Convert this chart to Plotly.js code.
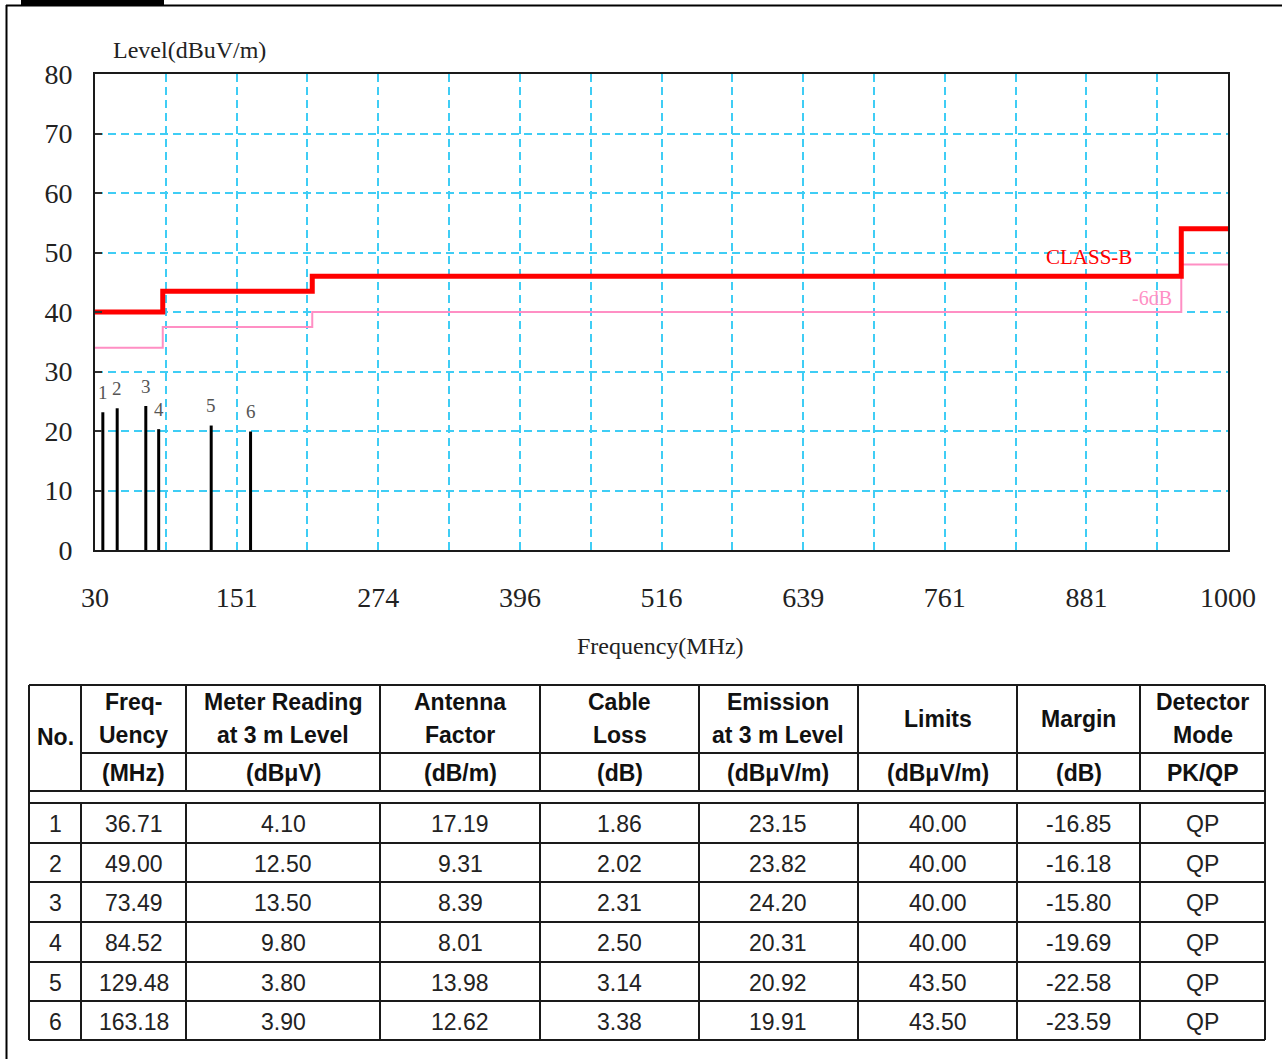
<!DOCTYPE html>
<html>
<head>
<meta charset="utf-8">
<script src="https://cdn.plot.ly/plotly-3.0.1.min.js"></script>
<style>
html,body{margin:0;padding:0;background:#fff;}
#chart{width:1282px;height:1059px;}
</style>
</head>
<body>
<div id="chart"></div>
<script>
// ---------------- DATA ----------------
const peakNo      = ["1","2","3","4","5","6"];
const peakFreq    = [36.71, 49.00, 73.49, 84.52, 129.48, 163.18];
const meterRead   = ["4.10","12.50","13.50","9.80","3.80","3.90"];
const antFactor   = ["17.19","9.31","8.39","8.01","13.98","12.62"];
const cableLoss   = ["1.86","2.02","2.31","2.50","3.14","3.38"];
const emission    = [23.15, 23.82, 24.20, 20.31, 20.92, 19.91];
const limits      = ["40.00","40.00","40.00","40.00","43.50","43.50"];
const margin      = ["-16.85","-16.18","-15.80","-19.69","-22.58","-23.59"];
const detector    = ["QP","QP","QP","QP","QP","QP"];

const limitFreq   = [30, 88, 216, 960, 1000];
const classB      = [40, 43.5, 46, 54, 54];
const classB6dB   = [34, 37.5, 40, 48, 48];

const xTickLabels = ["30","151","274","396","516","639","761","881","1000"];

const headLine1 = ["", "Freq-", "Meter Reading", "Antenna", "Cable", "Emission", "", "", "Detector"];
const headLine2 = ["", "Uency", "at 3 m Level", "Factor", "Loss", "at 3 m Level", "", "", "Mode"];
const headSingle = ["No.", "", "", "", "", "", "Limits", "Margin", ""];
const headUnits = ["", "(MHz)", "(dBμV)", "(dB/m)", "(dB)", "(dBμV/m)", "(dBμV/m)", "(dB)", "PK/QP"];

// ---------------- LAYOUT HELPERS ----------------
const W = 1282, H = 1059;
const PX = p => p / W;
const PY = p => 1 - p / H;
const plotL = 95, plotR = 1228, plotT = 74, plotB = 550;

const serif = "Liberation Serif, Times New Roman, serif";
const sans = "Liberation Sans, Arial, sans-serif";
const gridCol = "#3fcdf5";

// grid positions: 16 divisions across 30..1000
const xMin = 30, xMax = 1000, nDiv = 16;
const tickVals = [], tickText = [];
for (let i = 0; i <= nDiv; i++) {
  tickVals.push(xMin + (xMax - xMin) * i / nDiv);
  tickText.push(i % 2 === 0 ? xTickLabels[i / 2] : "");
}

// ---------------- TRACES ----------------
const traces = [];
traces.push({
  x: limitFreq, y: classB6dB, mode: "lines", line: {shape: "hv", color: "#ff8fc4", width: 2},
  hoverinfo: "skip", showlegend: false
});
traces.push({
  x: limitFreq, y: classB, mode: "lines", line: {shape: "hv", color: "#ff0000", width: 5},
  hoverinfo: "skip", showlegend: false
});
const bx = [], by = [];
peakFreq.forEach((f, i) => { bx.push(f, f, null); by.push(0, emission[i], null); });
traces.push({
  x: bx, y: by, mode: "lines", line: {color: "#000", width: 3},
  hoverinfo: "skip", showlegend: false
});

// ---------------- ANNOTATIONS ----------------
const ann = [];
ann.push({xref: "paper", yref: "paper", x: PX(111), y: PY(50), xanchor: "left", yanchor: "middle",
  text: "Level(dBuV/m)", showarrow: false, font: {family: serif, size: 24, color: "#222"}});
ann.push({xref: "paper", yref: "paper", x: PX(660), y: PY(646), xanchor: "center", yanchor: "middle",
  text: "Frequency(MHz)", showarrow: false, font: {family: serif, size: 24, color: "#222"}});
ann.push({xref: "x", yref: "y", x: 881, y: 49.2, xanchor: "center", yanchor: "middle",
  text: "CLASS-B", showarrow: false, font: {family: serif, size: 21, color: "#ff0000"}});
ann.push({xref: "x", yref: "y", x: 935, y: 42.4, xanchor: "center", yanchor: "middle",
  text: "-6dB", showarrow: false, font: {family: serif, size: 20, color: "#ff8fc4"}});
peakFreq.forEach((f, i) => {
  ann.push({xref: "x", yref: "y", x: f, y: emission[i], yshift: 20, xanchor: "center", yanchor: "middle",
    text: peakNo[i], showarrow: false, font: {family: serif, size: 19, color: "#555"}});
});

// ---------------- TABLE (shapes + text) ----------------
const colEdges = [29, 81, 186, 380, 540, 699, 858, 1017, 1140, 1265];
const hdrTop = 685, hdrMid = 753, hdrBot = 791, gapBot = 803;
const rowEdges = [803, 843, 882, 922, 962, 1001, 1040];
const shapes = [];
const tLine = {color: "#1a1a1a", width: 2};
function hline(y, x0, x1) { shapes.push({type: "line", xref: "paper", yref: "paper", x0: PX(x0), x1: PX(x1), y0: PY(y), y1: PY(y), line: tLine}); }
function vline(x, y0, y1) { shapes.push({type: "line", xref: "paper", yref: "paper", x0: PX(x), x1: PX(x), y0: PY(y0), y1: PY(y1), line: tLine}); }
const tL = colEdges[0], tR = colEdges[colEdges.length - 1];
hline(hdrTop, tL, tR);
hline(hdrMid, colEdges[1], tR);
hline(hdrBot, tL, tR);
hline(gapBot, tL, tR);
rowEdges.slice(1).forEach(y => hline(y, tL, tR));
vline(tL, hdrTop, rowEdges[rowEdges.length - 1]);
vline(tR, hdrTop, rowEdges[rowEdges.length - 1]);
colEdges.slice(1, -1).forEach(x => { vline(x, hdrTop, hdrBot); vline(x, gapBot, rowEdges[rowEdges.length - 1]); });

// page frame
shapes.push({type: "line", xref: "paper", yref: "paper", x0: PX(6), x1: PX(1282), y0: PY(5.5), y1: PY(5.5), line: {color: "#000", width: 2}});
shapes.push({type: "line", xref: "paper", yref: "paper", x0: PX(6.5), x1: PX(6.5), y0: PY(5), y1: PY(1059), line: {color: "#000", width: 2}});
shapes.push({type: "rect", xref: "paper", yref: "paper", x0: PX(21), x1: PX(164), y0: PY(0), y1: PY(5.5), line: {width: 0}, fillcolor: "#000"});

const colCenter = i => (colEdges[i] + colEdges[i + 1]) / 2;
const hdrFont = {family: sans, size: 23, color: "#111"};
const cellFont = {family: sans, size: 23, color: "#222"};
function txt(x, y, s, font) {
  ann.push({xref: "paper", yref: "paper", x: PX(x), y: PY(y), xanchor: "center", yanchor: "middle",
    text: s, showarrow: false, font: font});
}
for (let c = 0; c < 9; c++) {
  const cx = colCenter(c);
  if (headLine1[c]) txt(cx, 702, "<b>" + headLine1[c] + "</b>", hdrFont);
  if (headLine2[c]) txt(cx, 735, "<b>" + headLine2[c] + "</b>", hdrFont);
  if (headSingle[c]) txt(cx, c === 0 ? 737 : 719, "<b>" + headSingle[c] + "</b>", hdrFont);
  if (headUnits[c]) txt(cx, 773, "<b>" + headUnits[c] + "</b>", hdrFont);
}
const cols = [peakNo, peakFreq.map(v => v.toFixed(2)), meterRead, antFactor, cableLoss,
  emission.map(v => v.toFixed(2)), limits, margin, detector];
for (let r = 0; r < 6; r++) {
  const cy = (rowEdges[r] + rowEdges[r + 1]) / 2 + 1;
  for (let c = 0; c < 9; c++) txt(colCenter(c), cy, cols[c][r], cellFont);
}

// ---------------- LAYOUT ----------------
const layout = {
  width: W, height: H,
  margin: {l: 0, r: 0, t: 0, b: 0},
  paper_bgcolor: "#fff", plot_bgcolor: "#fff",
  showlegend: false,
  xaxis: {
    domain: [PX(plotL), PX(plotR)], range: [xMin, xMax],
    tickmode: "array", tickvals: tickVals, ticktext: tickText,
    showgrid: true, gridcolor: gridCol, gridwidth: 2, griddash: "8px,5px",
    zeroline: false, showline: true, mirror: true, linecolor: "#1a1a1a", linewidth: 2,
    ticks: "", ticklabelstandoff: 21,
    tickfont: {family: serif, size: 28, color: "#222"}
  },
  yaxis: {
    domain: [PY(plotB), PY(plotT)], range: [0, 80], dtick: 10, tick0: 0,
    showgrid: true, gridcolor: gridCol, gridwidth: 2, griddash: "8px,5px",
    zeroline: false, showline: true, mirror: true, linecolor: "#1a1a1a", linewidth: 2,
    ticks: "inside", ticklen: 7, tickcolor: "#333", tickwidth: 2, ticklabelstandoff: 15,
    tickfont: {family: serif, size: 28, color: "#222"}
  },
  shapes: shapes,
  annotations: ann
};

Plotly.newPlot("chart", traces, layout, {staticPlot: true, displayModeBar: false});
</script>
</body>
</html>
